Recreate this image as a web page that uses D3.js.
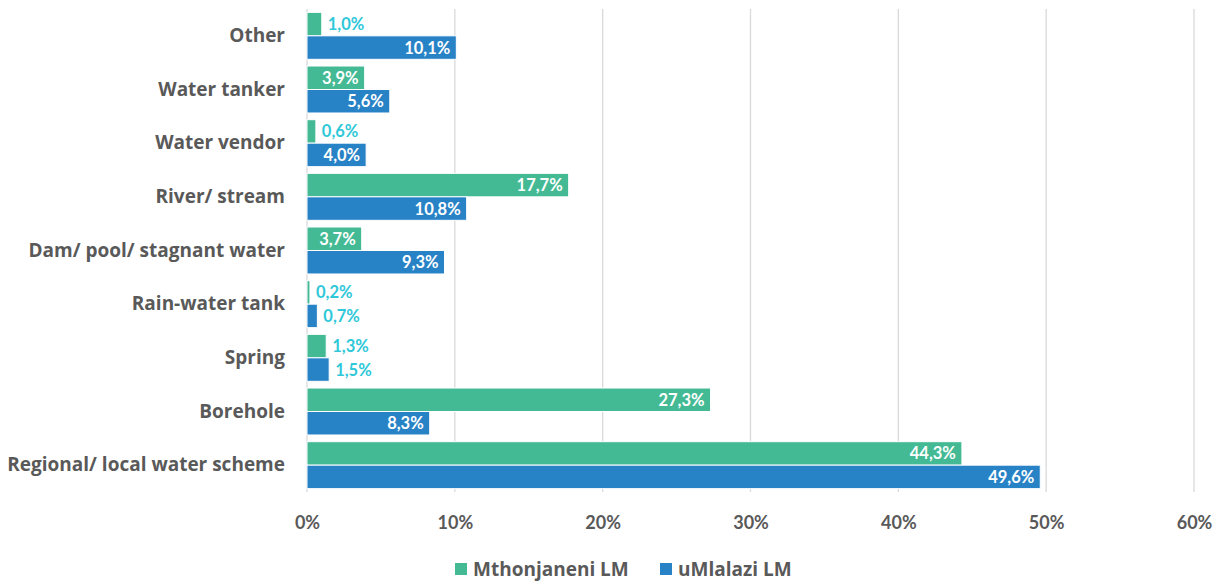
<!DOCTYPE html>
<html>
<head>
<meta charset="utf-8">
<script src="https://cdn.jsdelivr.net/npm/d3@7"></script>
<style>
  html, body { margin: 0; padding: 0; background: #ffffff; }
  svg { display: block; font-family: "Open Sans", Lato, sans-serif; font-weight: 700; }
</style>
</head>
<body>
<svg id="chart" width="1225" height="584"></svg>
<script>
// Main source of drinking water, by local municipality (% of households)
const categories = [
  "Other",
  "Water tanker",
  "Water vendor",
  "River/ stream",
  "Dam/ pool/ stagnant water",
  "Rain-water tank",
  "Spring",
  "Borehole",
  "Regional/ local water scheme"
];
const seriesNames = ["Mthonjaneni LM", "uMlalazi LM"];
const mthonjaneni = [1.0, 3.9, 0.6, 17.7, 3.7, 0.2, 1.3, 27.3, 44.3];
const umlalazi    = [10.1, 5.6, 4.0, 10.8, 9.3, 0.7, 1.5, 8.3, 49.6];
const tickValues  = [0, 10, 20, 30, 40, 50, 60];

const colors = ["#43BA94", "#2882C6"];
const labelOutside = "#2FC8D9";
const textGrey = "#595959";

const svg = d3.select("#chart");
const margin = { left: 307, right: 31, top: 9, bottom: 92 };
const W = 1225, H = 584;

const x = d3.scaleLinear().domain([0, 60]).range([margin.left, W - margin.right]);
const y = d3.scaleBand().domain(categories)
  .range([margin.top, H - margin.bottom])
  .paddingInner(0.125).paddingOuter(0.0625);
const sub = d3.scaleBand().domain(seriesNames).range([0, y.bandwidth()]);

// vertical gridlines
svg.append("g").selectAll("line").data(tickValues).join("line")
  .attr("x1", d => x(d)).attr("x2", d => x(d))
  .attr("y1", margin.top).attr("y2", H - margin.bottom)
  .attr("stroke", "#D9D9D9").attr("stroke-width", 1.3);

// x axis tick labels
const xAxis = d3.axisBottom(x).tickValues(tickValues).tickFormat(d => d + "%").tickSize(0).tickPadding(0);
const gx = svg.append("g").attr("transform", `translate(0,${H - margin.bottom + 37})`).call(xAxis);
gx.select(".domain").remove();
gx.selectAll("text").attr("fill", textGrey).style("font-size", "18px")
  .style("font-family", "Lato, sans-serif").style("font-weight", 700).attr("dy", "0");

// category labels
const yAxis = d3.axisLeft(y).tickSize(0).tickPadding(22);
const gy = svg.append("g").attr("transform", `translate(${margin.left},0)`).call(yAxis);
gy.select(".domain").remove();
gy.selectAll("text").attr("fill", textGrey).style("font-size", "19px")
  .style("font-family", "'Open Sans', sans-serif").style("font-weight", 700);

// bars
const series = [mthonjaneni, umlalazi];
const rows = [];
series.forEach((vals, si) => vals.forEach((v, ci) => rows.push({ s: si, cat: categories[ci], v })));

svg.append("g").selectAll("rect").data(rows).join("rect")
  .attr("x", x(0))
  .attr("y", d => y(d.cat) + sub(seriesNames[d.s]))
  .attr("width", d => x(d.v) - x(0))
  .attr("height", sub.bandwidth())
  .attr("fill", d => colors[d.s])
  .attr("stroke", "#ffffff").attr("stroke-width", 1);

// value labels: inside end (white) for wider bars, outside end (cyan) for narrow ones
const fmt = v => v.toFixed(1).replace(".", ",") + "%";
svg.append("g").selectAll("text").data(rows).join("text")
  .attr("x", d => d.v >= 3 ? x(d.v) - 6 : x(d.v) + 6)
  .attr("y", d => y(d.cat) + sub(seriesNames[d.s]) + sub.bandwidth() / 2)
  .attr("dy", "0.36em")
  .attr("text-anchor", d => d.v >= 3 ? "end" : "start")
  .attr("fill", d => d.v >= 3 ? "#ffffff" : labelOutside)
  .style("font-family", "Lato, sans-serif")
  .style("font-size", "16.5px")
  .text(d => fmt(d.v));

// legend
const legend = svg.append("g").attr("transform", `translate(0,${H})`);
const legendX = [455, 660];
seriesNames.forEach((n, i) => {
  legend.append("rect").attr("x", legendX[i]).attr("y", -21).attr("width", 12).attr("height", 12).attr("fill", colors[i]);
  legend.append("text").attr("x", legendX[i] + 18).attr("y", -8)
    .attr("fill", textGrey).style("font-size", "19px")
    .style("font-family", "'Open Sans', sans-serif").text(n);
});
</script>
</body>
</html>
